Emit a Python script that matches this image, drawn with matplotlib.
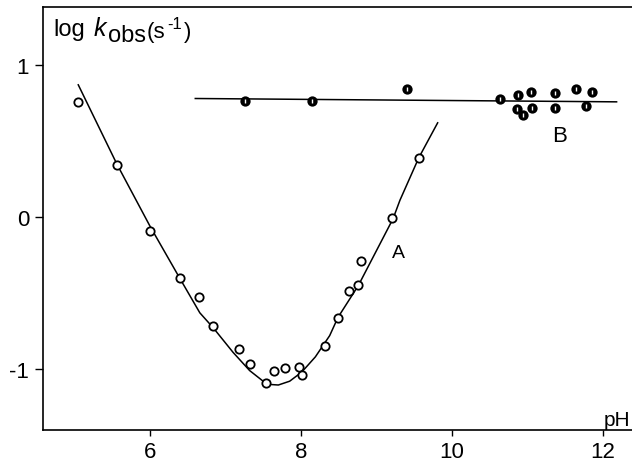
import matplotlib

matplotlib.use("Agg")
import matplotlib.pyplot as plt

plt.rcParams["font.family"] = ["Liberation Sans", "DejaVu Sans"]
plt.rcParams["axes.unicode_minus"] = False

W, H = 632, 464

# series A: open circles (pH, log k_obs)
ph_a = [5.05, 5.56, 6.00, 6.40, 6.65, 6.84, 7.18, 7.33, 7.54, 7.64, 7.79,
        7.98, 8.01, 8.32, 8.49, 8.64, 8.76, 8.80, 9.21, 9.56]
logk_a = [0.755, 0.342, -0.09, -0.401, -0.524, -0.715, -0.868, -0.967, -1.092,
          -1.011, -0.996, -0.989, -1.039, -0.851, -0.662, -0.487, -0.45,
          -0.287, -0.004, 0.386]

# fitted curve A
curve_ph_a = [5.05, 5.56, 6.00, 6.38, 6.66, 6.84, 7.10, 7.32, 7.55, 7.70,
              7.85, 8.01, 8.19, 8.38, 8.49, 8.76, 9.22, 9.31, 9.56, 9.81]
curve_logk_a = [0.87, 0.35, -0.06, -0.39, -0.63, -0.73, -0.89, -1.01, -1.10,
                -1.105, -1.08, -1.02, -0.92, -0.78, -0.66, -0.45, -0.01, 0.11,
                0.39, 0.62]

# series B: half-filled circles
ph_b = [7.26, 8.15, 9.40, 10.64, 10.87, 11.05, 10.86, 10.94, 11.06, 11.37,
        11.37, 11.64, 11.77, 11.85]
logk_b = [0.765, 0.765, 0.842, 0.776, 0.803, 0.824, 0.711, 0.671, 0.719,
          0.816, 0.715, 0.842, 0.733, 0.82]

# line B
line_ph_b = [6.60, 12.18]
line_logk_b = [0.78, 0.758]

fig = plt.figure(figsize=(W / 100, H / 100), dpi=100)
ax = fig.add_axes([43 / W, 1 - 431 / H, 1 - 43 / W, (431 - 8) / H])

ax.plot(curve_ph_a, curve_logk_a, color="black", lw=1.1)
ax.plot(line_ph_b, line_logk_b, color="black", lw=1.1)
ax.plot(ph_a, logk_a, "o", ms=6, mfc="white", mec="black", mew=1.3)
ax.plot(ph_b, logk_b, "o", ms=6.2, mfc="black", mec="black", mew=1.2)
ax.plot(ph_b, logk_b, "|", ms=3.2, mec="white", mew=1.0)

ax.text(9.29, -0.23, "A", fontsize=14, ha="center", va="center")
ax.text(11.42, 0.535, "B", fontsize=16, ha="center", va="center")
ax.text(12.18, -1.33, "pH", fontsize=15, ha="center", va="center")


# y-axis title, pieced together like the typeset original (pixel anchors)
def px_text(x, y, s, **kw):
    fig.text(x / W, 1 - y / H, s, va="baseline", ha="left", **kw)


px_text(53, 36, "log", fontsize=17)
px_text(94, 36, "k", fontsize=18, style="italic")
px_text(108, 42, "obs", fontsize=17)
px_text(147, 38, "(s", fontsize=16)
px_text(167, 29, "-1", fontsize=12)
px_text(184, 38, ")", fontsize=16)

ax.set_xlim(4.583, 12.384)
ax.set_ylim(-1.401, 1.382)
ax.set_xticks([6, 8, 10, 12])
ax.set_yticks([-1, 0, 1])
ax.set_yticklabels(["-1", "0", "1"])
ax.tick_params(axis="x", direction="out", length=4, width=1, pad=4,
               labelsize=16)
ax.tick_params(axis="y", direction="out", length=6, width=1, pad=4,
               labelsize=16)
ax.spines["right"].set_visible(False)
for side in ("left", "bottom", "top"):
    ax.spines[side].set_linewidth(1.2)

fig.savefig("out.png", dpi=100)
